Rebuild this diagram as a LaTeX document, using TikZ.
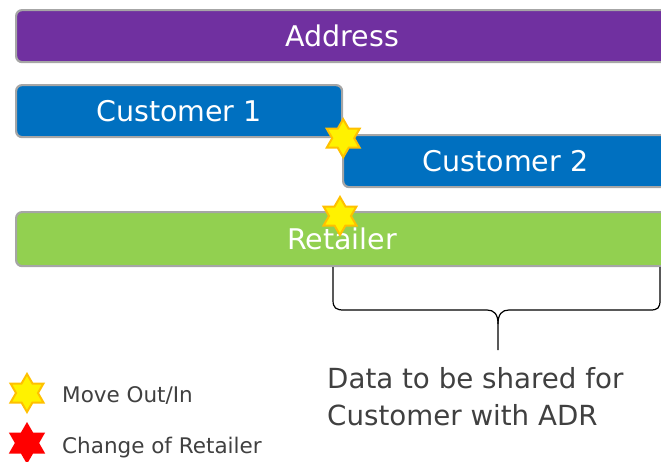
\documentclass[tikz,border=0pt]{standalone}
\usepackage{fontspec}
\setmainfont{DejaVu Sans}
\usepackage{xcolor}
\usepackage{tikz}
\usetikzlibrary{shapes.geometric, positioning}
\definecolor{addrpurple}{HTML}{7030A0}
\definecolor{custblue}{HTML}{0070C0}
\definecolor{retgreen}{HTML}{92D050}
\definecolor{edgegray}{HTML}{A6A6A6}
\definecolor{textgray}{HTML}{404040}
\definecolor{starorange}{HTML}{FFC000}
\tikzset{
  bar/.style={rectangle, rounded corners=6pt, draw=edgegray, line width=2.2pt,
              text=white, font=\fontsize{28.5}{34}\selectfont, inner sep=0pt,
              anchor=north west, minimum height=52pt},
  movestar/.style={star, star points=6, star point ratio=1.732, minimum size=38pt,
                   inner sep=0pt, draw=starorange, line width=2pt, fill=yellow},
  changestar/.style={movestar, draw=red, fill=red},
  legendtext/.style={font=\fontsize{21.5}{25}\selectfont, text=textgray,
                     anchor=base west, inner sep=0pt},
  note/.style={font=\fontsize{27.7}{37}\selectfont, text=textgray, align=left,
               anchor=base west, inner sep=0pt},
  bracket/.style={draw=black, line width=1.2pt},
}

\begin{document}
\begin{tikzpicture}[x=1pt, y=-1pt]

  \useasboundingbox (0,0) rectangle (661,461);
  \clip (0,0) rectangle (661,461);

  %% bars
  \node[bar, fill=addrpurple, minimum width=652pt] (address) at (15,9) {Address};
  \node[bar, fill=custblue, minimum width=326pt] (cust1) at (15,84) {Customer 1};
  \node[bar, fill=custblue, minimum width=325pt] (cust2) at (342,134) {Customer 2};
  \node[bar, fill=retgreen, minimum width=652pt, minimum height=54pt] (retailer) at (15,211) {Retailer};

  %% move out/in events
  \node[movestar] (moveA) at (cust1.south east) {};
  \node[movestar] (moveB) at (340,216) {};

  %% brace under the shared part
  \draw[bracket] (333,267) -- (333,300) .. controls (333,308) and (336,310) .. (344,310)
    -- (487,310) .. controls (494,310) and (498,314) .. (498,324) -- (498,350);
  \draw[bracket] (498,324) .. controls (498,314) and (502,310) .. (509,310)
    -- (650,310) .. controls (658,310) and (660,308) .. (660,300) -- (660,267);

  \node[note] (shared) at (327,425) {Data to be shared for\\Customer with ADR};

  %% legend
  \node[movestar] (keyMove) at (27,393) {};
  \node[legendtext] (keyMoveText) at (62,402) {Move Out/In};
  \node[changestar] (keyChange) at (27,443) {};
  \node[legendtext] (keyChangeText) at (62,453) {Change of Retailer};

\end{tikzpicture}
\end{document}
